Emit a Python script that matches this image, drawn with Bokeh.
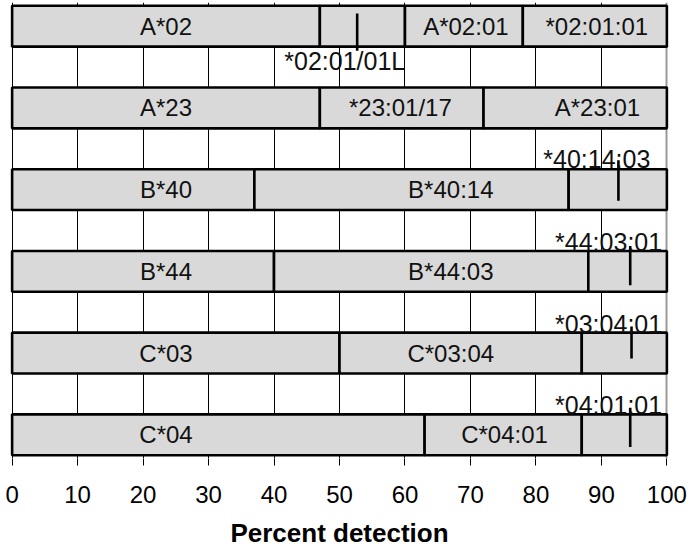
from bokeh.plotting import figure
from bokeh.models import Range1d, FixedTicker, Grid, ColumnDataSource
from bokeh.core.properties import value
from bokeh.embed import file_html
from bokeh.resources import INLINE

# ---- data ----
row_order = ["A*02", "A*23", "B*40", "B*44", "C*03", "C*04"]  # top to bottom

seg_row = ["A*02", "A*02", "A*02", "A*02",
           "A*23", "A*23", "A*23",
           "B*40", "B*40", "B*40",
           "B*44", "B*44", "B*44",
           "C*03", "C*03", "C*03",
           "C*04", "C*04", "C*04"]
seg_start = [0, 47, 60, 78,
             0, 47, 72,
             0, 37, 85,
             0, 40, 88,
             0, 50, 87,
             0, 63, 87]
seg_end = [47, 60, 78, 100,
           47, 72, 100,
           37, 85, 100,
           40, 88, 100,
           50, 87, 100,
           63, 87, 100]
seg_label = ["A*02", "", "A*02:01", "*02:01:01",
             "A*23", "*23:01/17", "A*23:01",
             "B*40", "B*40:14", "",
             "B*44", "B*44:03", "",
             "C*03", "C*03:04", "",
             "C*04", "C*04:01", ""]
seg_label_x = [23.5, None, 69.3, 89.3,
               23.5, 59.3, 89.4,
               23.5, 67.0, None,
               23.5, 67.0, None,
               23.5, 67.0, None,
               23.5, 75.2, None]

# callout labels for the small segments
call_row = ["A*02", "B*40", "B*44", "C*03", "C*04"]
call_text = ["*02:01/01L", "*40:14:03", "*44:03:01", "*03:04:01", "*04:01:01"]
call_text_x = [50.8, 89.3, 91.1, 91.1, 91.1]
call_text_y = [9.66, 7.25, 5.22, 3.22, 1.23]
call_line_x = [52.7, 92.6, 94.4, 94.6, 94.4]
call_line_y0 = [10.81, 7.22, 5.12, 3.15, 1.16]
call_line_y1 = [9.90, 6.23, 4.16, 2.37, 0.20]

x_ticks = [0, 10, 20, 30, 40, 50, 60, 70, 80, 90, 100]

# ---- build ----
n = len(row_order)
row_bottom = {r: (n - 1 - i) * 2 for i, r in enumerate(row_order)}
bars = ColumnDataSource(dict(
    left=seg_start, right=seg_end,
    bottom=[row_bottom[r] for r in seg_row],
    top=[row_bottom[r] + 1 for r in seg_row],
))
lab_idx = [i for i, t in enumerate(seg_label) if t]
labels = ColumnDataSource(dict(
    x=[seg_label_x[i] for i in lab_idx],
    y=[row_bottom[seg_row[i]] + 0.5 for i in lab_idx],
    text=[seg_label[i] for i in lab_idx],
))
calls = ColumnDataSource(dict(
    tx=call_text_x, ty=call_text_y, text=call_text,
    lx=call_line_x, ly0=call_line_y0, ly1=call_line_y1,
))

FONT = "Liberation Sans"

p = figure(width=690, height=546, output_backend="svg", toolbar_location=None,
           x_range=Range1d(-0.4, 100.4), y_range=Range1d(-0.08, 11.08),
           min_border_left=9, min_border_right=21, min_border_top=2,
           min_border_bottom=88, frame_width=660, frame_height=456,
           margin=(0, 0, 0, 0))
p.outline_line_color = None
p.background_fill_color = "white"
p.yaxis.visible = False
p.ygrid.visible = False

xa = p.xaxis[0]
xa.ticker = FixedTicker(ticks=x_ticks)
xa.axis_line_color = None
xa.major_tick_out = 7
xa.major_tick_in = 0
xa.major_tick_line_color = "black"
xa.major_tick_line_width = 1
xa.minor_tick_line_color = None
xa.major_label_text_font = FONT
xa.major_label_text_font_size = "24px"
xa.major_label_text_color = "black"
xa.major_label_standoff = 20
xa.axis_label = "Percent detection"
xa.axis_label_text_font = FONT
xa.axis_label_text_font_size = "26px"
xa.axis_label_text_font_style = "bold"
xa.axis_label_text_color = "black"
xa.axis_label_standoff = 12

p.xgrid.ticker = FixedTicker(ticks=x_ticks[:-1])
p.xgrid.grid_line_color = "black"
p.xgrid.grid_line_width = 1
p.add_layout(Grid(dimension=0, ticker=FixedTicker(ticks=x_ticks[-1:]),
                  grid_line_color="#999999", grid_line_width=2))

p.quad(left="left", right="right", bottom="bottom", top="top", source=bars,
       fill_color="#d9d9d9", line_color="black", line_width=2.6)

p.text(x="x", y="y", text="text", source=labels, text_font=value(FONT),
       text_font_size="24px", text_align="center", text_baseline="middle",
       text_color="#111111")

p.segment(x0="lx", y0="ly0", x1="lx", y1="ly1", source=calls,
          line_color="black", line_width=2.6)
p.text(x="tx", y="ty", text="text", source=calls, text_font=value(FONT),
       text_font_size="25px", text_align="center", text_baseline="alphabetic",
       text_color="#111111")

open("out.html", "w").write(file_html(p, INLINE))
